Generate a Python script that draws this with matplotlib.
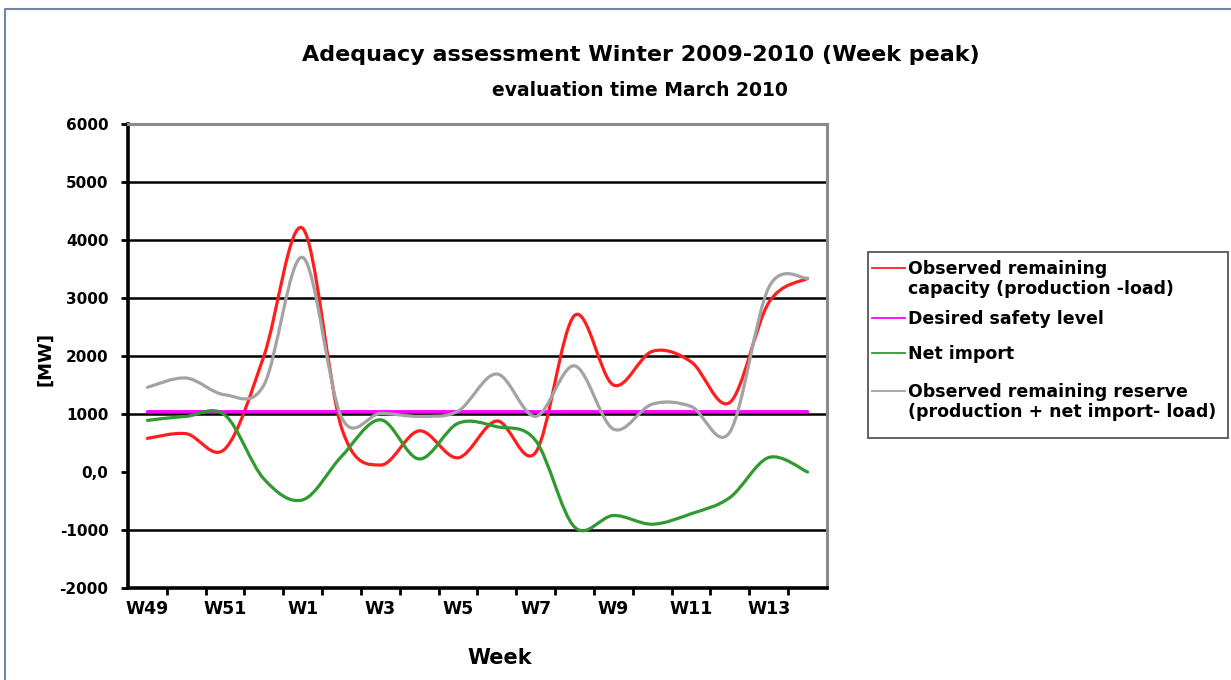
import numpy as np
import matplotlib.pyplot as plt
from matplotlib.path import Path
from matplotlib.patches import PathPatch, Rectangle
from matplotlib.lines import Line2D

plt.rcParams['font.family'] = 'DejaVu Sans'
plt.rcParams['font.weight'] = 'bold'

W, H = 1231, 680

weeks = ["W49", "W50", "W51", "W52", "W1", "W2", "W3", "W4", "W5",
         "W6", "W7", "W8", "W9", "W10", "W11", "W12", "W13", "W14"]

# MW, week peak values
remaining_capacity = [580, 660, 400, 2000, 4200, 760, 120, 710, 245,
                      880, 340, 2700, 1500, 2080, 1900, 1200, 2920, 3340]
safety_level = [1040, 1040, 1040, 1040, 1040, 1040, 1040, 1040, 1040,
                1040, 1040, 1040, 1040, 1040, 1040, 1040, 1040, 1040]
net_import = [890, 960, 980, -120, -480, 270, 900, 225, 840,
              780, 540, -950, -750, -900, -720, -440, 250, 0]
remaining_reserve = [1460, 1620, 1330, 1500, 3700, 940, 1010, 960, 1050,
                     1690, 960, 1830, 740, 1170, 1130, 690, 3180, 3340]

y_ticks = [-2000, -1000, 0, 1000, 2000, 3000, 4000, 5000, 6000]
y_tick_labels = ["-2000", "-1000", "0,0", "1000", "2000", "3000", "4000", "5000", "6000"]
grid_levels = [-1000, 1000, 2000, 3000, 4000, 5000]

series = [
    ("Observed remaining\ncapacity (production -load)", remaining_capacity, "#ff1e1e"),
    ("Desired safety level", safety_level, "#ff00ff"),
    ("Net import", net_import, "#2f9a2f"),
    ("Observed remaining reserve\n(production + net import- load)", remaining_reserve, "#a3a3a3"),
]


def smooth_path(xs, ys):
    """Cubic bezier through the points (spreadsheet style smoothed line)"""
    pts = np.column_stack([xs, ys]).astype(float)
    n = len(pts)
    verts = [pts[0]]
    codes = [Path.MOVETO]
    for i in range(n - 1):
        p0 = pts[max(i - 1, 0)]
        p1 = pts[i]
        p2 = pts[i + 1]
        p3 = pts[min(i + 2, n - 1)]
        verts += [p1 + (p2 - p0) / 6, p2 - (p3 - p1) / 6, p2]
        codes += [Path.CURVE4] * 3
    return Path(verts, codes)


def fx(px):
    return px / W


def fy(py):
    return 1 - py / H


fig = plt.figure(figsize=(W / 100, H / 100), dpi=100)
fig.patch.set_facecolor('white')
ax = fig.add_axes([fx(128), fy(588), 699 / W, 464 / H])

x = np.arange(len(weeks)) + 0.5
ax.set_xlim(0, len(weeks))
ax.set_ylim(-2000, 6000)

ax.hlines(grid_levels, 0, len(weeks), colors='black', lw=1.8, zorder=1)

for label, values, color in series:
    ax.add_patch(PathPatch(smooth_path(x, values), facecolor='none', edgecolor=color,
                           lw=2.3, capstyle='round', joinstyle='round', zorder=3))

# y axis
ax.set_yticks(y_ticks)
ax.set_yticklabels(y_tick_labels)
ax.tick_params(axis='y', direction='out', length=5, width=2, labelsize=11, pad=9)

# x axis: marks between categories, labels on every other week
ax.set_xticks(np.arange(1, len(weeks)))
ax.set_xticklabels([])
ax.set_xticks(x[::2], minor=True)
ax.set_xticklabels(weeks[::2], minor=True)
ax.tick_params(axis='x', which='major', direction='out', length=5, width=2)
ax.tick_params(axis='x', which='minor', length=0, labelsize=12.5, pad=9)

for side in ['left', 'bottom']:
    ax.spines[side].set_color('black')
    ax.spines[side].set_linewidth(2.6)
for side in ['top', 'right']:
    ax.spines[side].set_color('#8a8a8a')
    ax.spines[side].set_linewidth(2.2)

fig.text(fx(641), fy(55), "Adequacy assessment Winter 2009-2010 (Week peak)",
         ha='center', va='center', fontsize=16)
fig.text(fx(640), fy(91), "evaluation time March 2010",
         ha='center', va='center', fontsize=13.5)
fig.text(fx(45), fy(359), "[MW]", rotation=90, ha='center', va='center', fontsize=13)
fig.text(fx(500), fy(658), "Week", ha='center', va='center', fontsize=15)

# legend box
fig.add_artist(Rectangle((fx(868), fy(438)), 360 / W, 186 / H, transform=fig.transFigure,
                         fill=False, ec='#555555', lw=1.3))
legend_rows = [268, 318, 353, 391]
for (label, values, color), row in zip(series, legend_rows):
    fig.add_artist(Line2D([fx(872), fx(905)], [fy(row), fy(row)], transform=fig.transFigure,
                          color=color, lw=1.3))
    fig.text(fx(908), fy(row - 8), label, ha='left', va='top', fontsize=12.5,
             linespacing=1.15)

# outer frame
fig.add_artist(Line2D([fx(5), fx(5), fx(1231)], [fy(680), fy(9), fy(9)],
                      transform=fig.transFigure, color='#6f86a6', lw=1.5))

fig.savefig("out.png", dpi=100)
